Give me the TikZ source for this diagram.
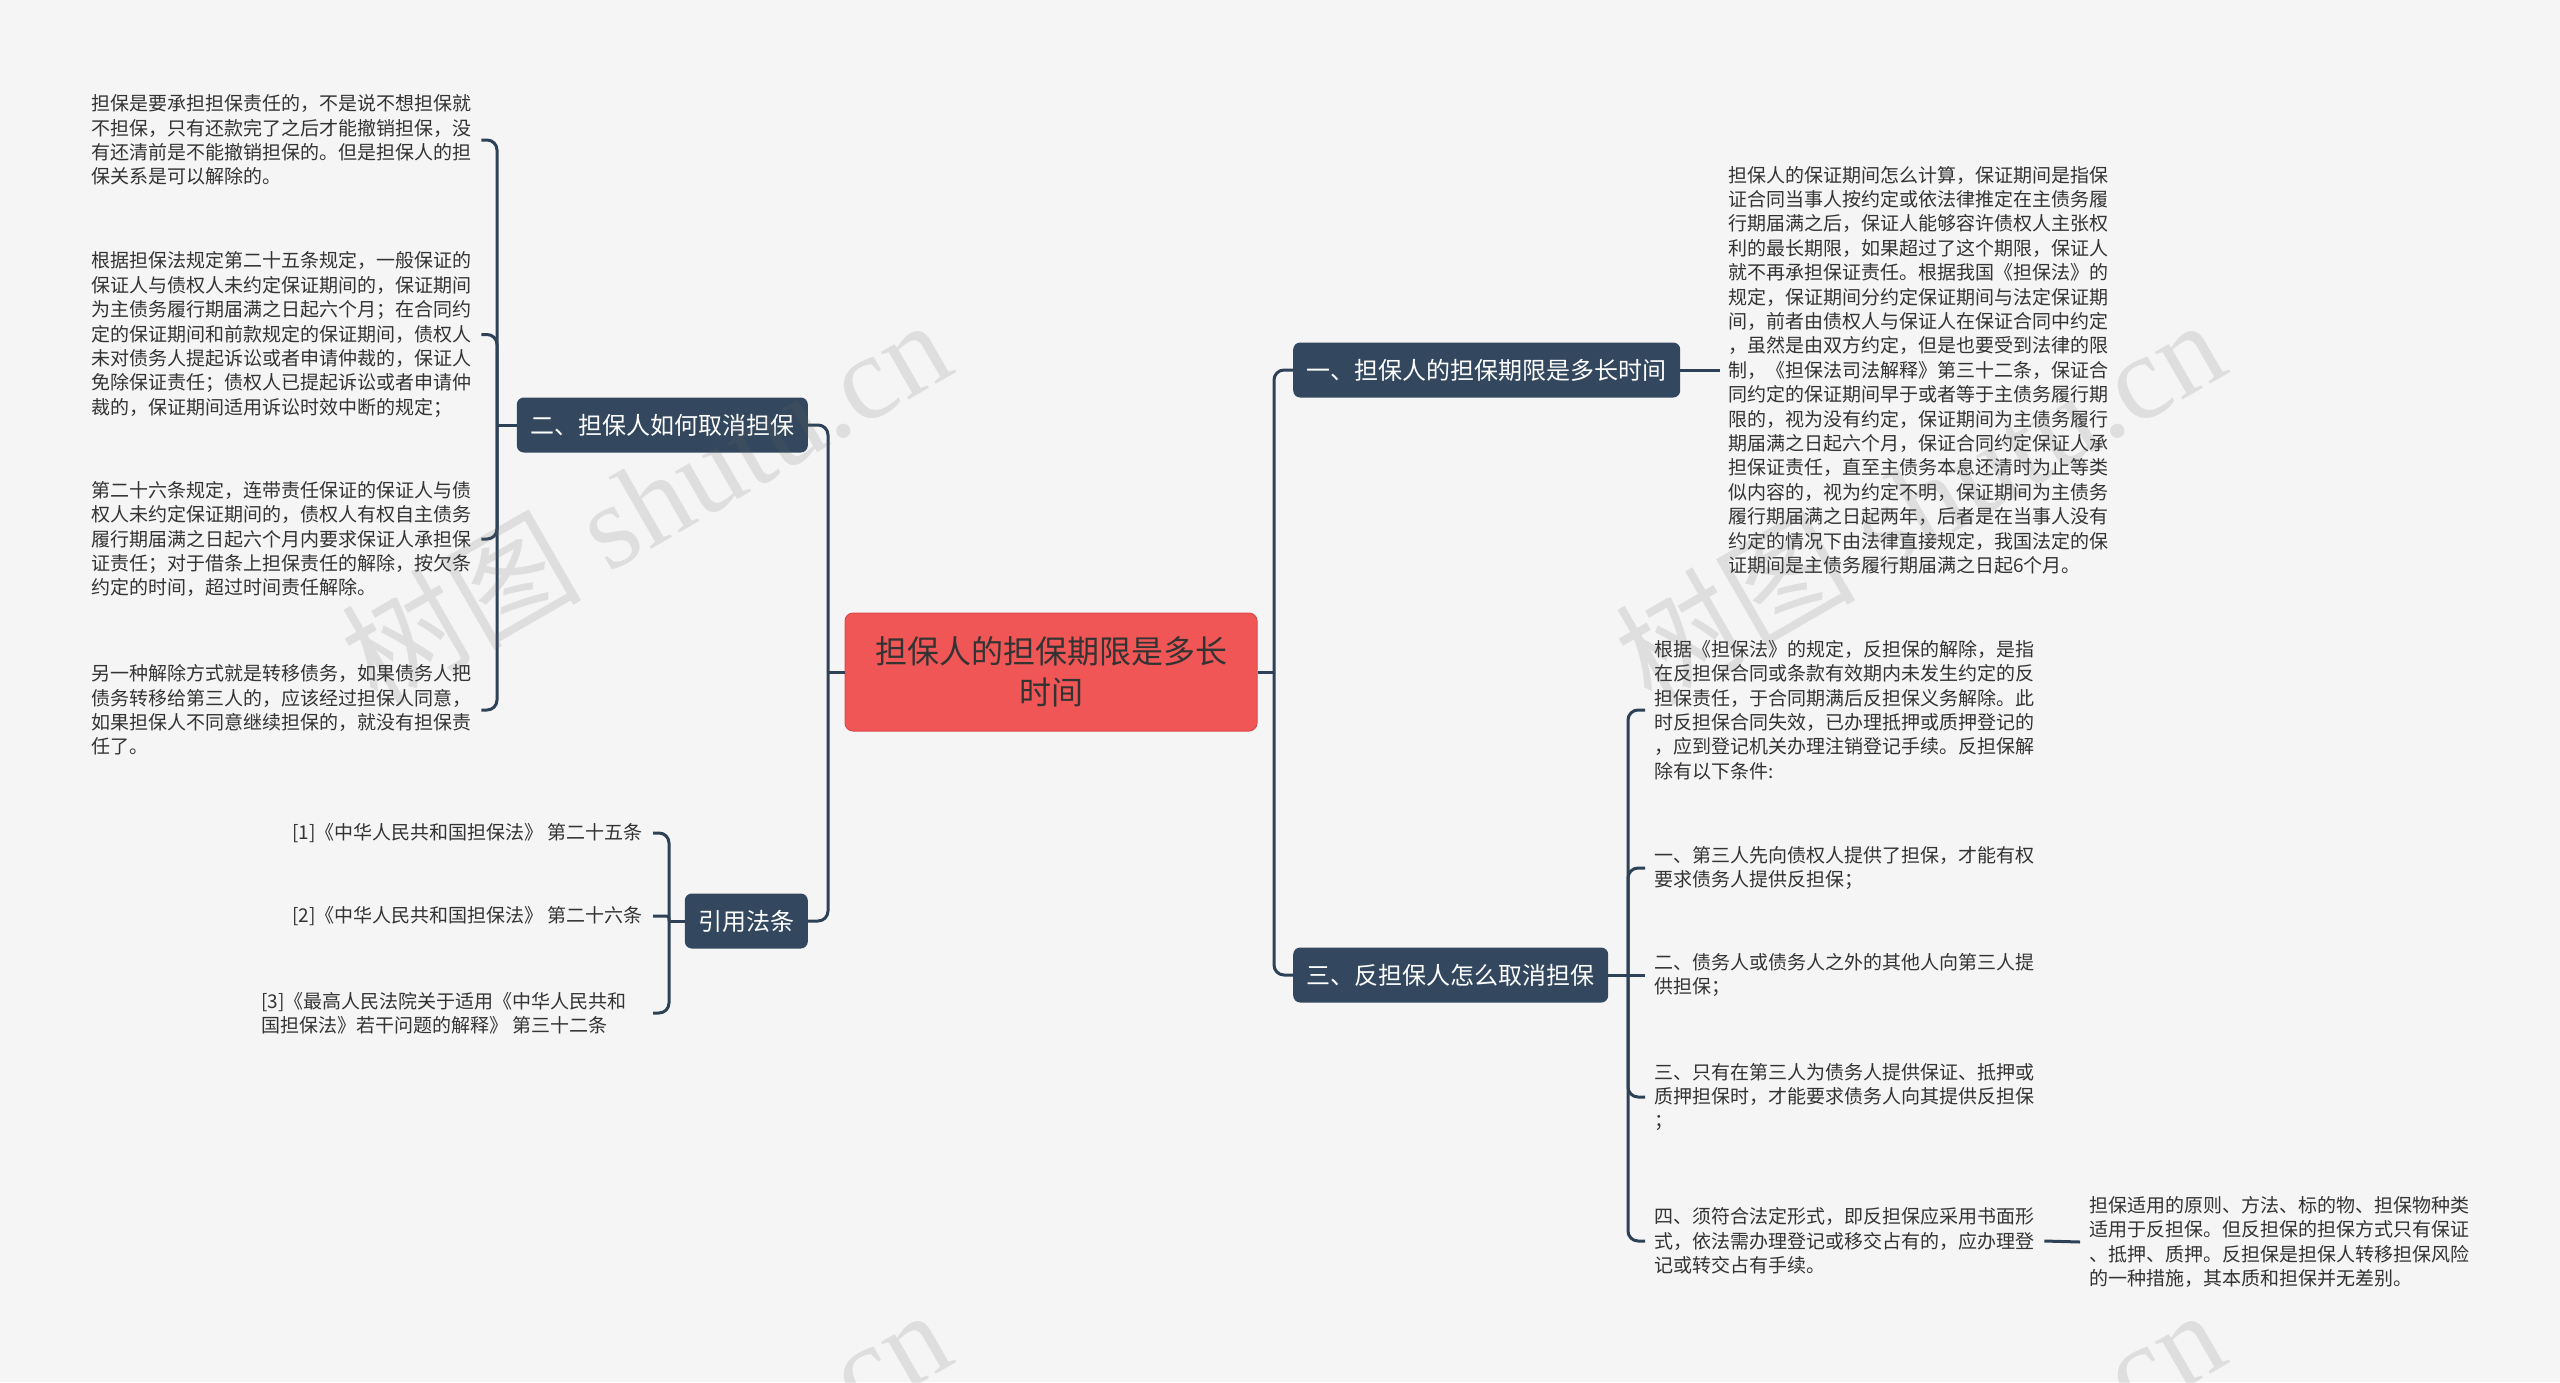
\documentclass[tikz,border=0pt]{standalone}
\usepackage{fontspec}
\newfontfamily\cjk{Noto Sans CJK SC}
\newfontfamily\wmserif{Liberation Serif}
\usetikzlibrary{calc}
\definecolor{bg}{HTML}{F5F5F5}
\definecolor{navy}{HTML}{33485E}
\definecolor{lineC}{HTML}{2E4257}
\definecolor{rootC}{HTML}{F05656}
\definecolor{rootB}{HTML}{DC4A4A}
\definecolor{txt}{HTML}{333333}
\begin{document}
\begin{tikzpicture}[x=1pt,y=-1pt,
  conn/.style={draw=lineC,line width=3pt},
  rc/.style={rounded corners=10pt},
  leaf/.style={font=\cjk\fontsize{19}{24.4}\selectfont, text=txt, align=left, inner sep=0pt},
  branch/.style={font=\cjk\fontsize{24}{28}\selectfont, text=white, fill=navy, rounded corners=7pt, minimum height=55pt, inner xsep=13.5pt, inner ysep=0pt},
  rootbox/.style={font=\cjk\fontsize{32}{41}\selectfont, text=txt, fill=rootC, draw=rootB, line width=1pt, rounded corners=8pt, minimum width=412pt, minimum height=118pt, align=center, inner sep=0pt},
  wm/.style={font=\fontsize{120}{130}\selectfont, text=black!60, opacity=0.16, inner sep=0pt, rotate=30}]
\useasboundingbox (0,0) rectangle (2560,1382);
\fill[bg] (0,0) rectangle (2560,1382);

% root and branches
\node[rootbox] (root) at (1051,672) {担保人的担保期限是多长\\时间};
\node[branch, anchor=west] (b1) at (1293,370) {一、担保人的担保期限是多长时间};
\node[branch, anchor=east] (b2) at (808,425) {二、担保人如何取消担保};
\node[branch, anchor=east] (b4) at (808,921) {引用法条};
\node[branch, anchor=west] (b3) at (1293,975) {三、反担保人怎么取消担保};

\coordinate (lt) at (828,672);
\coordinate (rt) at (1274,672);
\draw[conn] (root.west) -- (lt);
\draw[conn,rc] (lt) |- (b2.east);
\draw[conn,rc] (lt) |- (b4.east);
\draw[conn] (root.east) -- (rt);
\draw[conn,rc] (rt) |- (b1.west);
\draw[conn,rc] (rt) |- (b3.west);

% branch 1 child
\node[leaf, anchor=west] (r1) at (1728,370) {担保人的保证期间怎么计算，保证期间是指保\\证合同当事人按约定或依法律推定在主债务履\\行期届满之后，保证人能够容许债权人主张权\\利的最长期限，如果超过了这个期限，保证人\\就不再承担保证责任。根据我国《担保法》的\\规定，保证期间分约定保证期间与法定保证期\\间，前者由债权人与保证人在保证合同中约定\\，虽然是由双方约定，但是也要受到法律的限\\制，《担保法司法解释》第三十二条，保证合\\同约定的保证期间早于或者等于主债务履行期\\限的，视为没有约定，保证期间为主债务履行\\期届满之日起六个月，保证合同约定保证人承\\担保证责任，直至主债务本息还清时为止等类\\似内容的，视为约定不明，保证期间为主债务\\履行期届满之日起两年，后者是在当事人没有\\约定的情况下由法律直接规定，我国法定的保\\证期间是主债务履行期届满之日起6个月。};
\draw[conn] (b1.east) -- ([xshift=-8pt]r1.west);

% branch 2 children
\node[leaf, anchor=west] (l1) at (91,140) {担保是要承担担保责任的，不是说不想担保就\\不担保，只有还款完了之后才能撤销担保，没\\有还清前是不能撤销担保的。但是担保人的担\\保关系是可以解除的。};
\node[leaf, anchor=west] (l2) at (91,334.5) {根据担保法规定第二十五条规定，一般保证的\\保证人与债权人未约定保证期间的，保证期间\\为主债务履行期届满之日起六个月；在合同约\\定的保证期间和前款规定的保证期间，债权人\\未对债务人提起诉讼或者申请仲裁的，保证人\\免除保证责任；债权人已提起诉讼或者申请仲\\裁的，保证期间适用诉讼时效中断的规定；};
\node[leaf, anchor=west] (l3) at (91,539) {第二十六条规定，连带责任保证的保证人与债\\权人未约定保证期间的，债权人有权自主债务\\履行期届满之日起六个月内要求保证人承担保\\证责任；对于借条上担保责任的解除，按欠条\\约定的时间，超过时间责任解除。};
\node[leaf, anchor=west] (l4) at (91,710) {另一种解除方式就是转移债务，如果债务人把\\债务转移给第三人的，应该经过担保人同意，\\如果担保人不同意继续担保的，就没有担保责\\任了。};
\coordinate (lb) at (497,425);
\draw[conn] (b2.west) -- (lb);
\draw[conn,rc] (lb) |- ([xshift=10pt]l1.east);
\draw[conn,rc] (lb) |- ([xshift=10pt]l2.east);
\draw[conn,rc] (lb) |- ([xshift=10pt]l3.east);
\draw[conn,rc] (lb) |- ([xshift=10pt]l4.east);

% 引用法条 children
\node[leaf, anchor=east] (n1) at (643,833) {[1]《中华人民共和国担保法》 第二十五条};
\node[leaf, anchor=east] (n2) at (643,916) {[2]《中华人民共和国担保法》 第二十六条};
\node[leaf, anchor=west] (n3) at (261,1013) {[3]《最高人民法院关于适用《中华人民共和\\国担保法》若干问题的解释》 第三十二条};
\coordinate (qb) at (669,921);
\coordinate (s3) at (653,1013);
\draw[conn] (b4.west) -- (qb);
\draw[conn,rc] (qb) |- ([xshift=10pt]n1.east);
\draw[conn,rounded corners=2.5pt] (qb) |- ([xshift=10pt]n2.east);
\draw[conn,rc] (qb) |- (s3);

% branch 3 children
\node[leaf, anchor=west] (c1) at (1654,710) {根据《担保法》的规定，反担保的解除，是指\\在反担保合同或条款有效期内未发生约定的反\\担保责任，于合同期满后反担保义务解除。此\\时反担保合同失效，已办理抵押或质押登记的\\，应到登记机关办理注销登记手续。反担保解\\除有以下条件:};
\node[leaf, anchor=west] (c2) at (1654,868) {一、第三人先向债权人提供了担保，才能有权\\要求债务人提供反担保；};
\node[leaf, anchor=west] (c3) at (1654,975) {二、债务人或债务人之外的其他人向第三人提\\供担保；};
\node[leaf, anchor=west] (c4) at (1654,1097) {三、只有在第三人为债务人提供保证、抵押或\\质押担保时，才能要求债务人向其提供反担保\\；};
\node[leaf, anchor=west] (c5) at (1654,1241) {四、须符合法定形式，即反担保应采用书面形\\式，依法需办理登记或移交占有的，应办理登\\记或转交占有手续。};
\node[leaf, anchor=west] (c6) at (2089,1242) {担保适用的原则、方法、标的物、担保物种类\\适用于反担保。但反担保的担保方式只有保证\\、抵押、质押。反担保是担保人转移担保风险\\的一种措施，其本质和担保并无差别。};
\coordinate (cb) at (1628,975);
\draw[conn] (b3.east) -- (cb);
\draw[conn,rc] (cb) |- ([xshift=-9pt]c1.west);
\draw[conn,rc] (cb) |- ([xshift=-9pt]c2.west);
\draw[conn] (cb) -- ([xshift=-9pt]c3.west);
\draw[conn,rc] (cb) |- ([xshift=-9pt]c4.west);
\draw[conn,rc] (cb) |- ([xshift=-9pt]c5.west);
\draw[conn] ([xshift=10pt]c5.east) -- ([xshift=-9pt]c6.west);

% watermark
\begin{scope}
\clip (0,0) rectangle (2560,1382);
\node[wm] (wm1) at (645,500) {\cjk 树图 \wmserif shutu.cn};
\node[wm] (wm2) at (1919,500) {\cjk 树图 \wmserif shutu.cn};
\node[wm] (wm3) at (645,1490) {\cjk 树图 \wmserif shutu.cn};
\node[wm] (wm4) at (1919,1490) {\cjk 树图 \wmserif shutu.cn};
\end{scope}
\end{tikzpicture}
\end{document}
